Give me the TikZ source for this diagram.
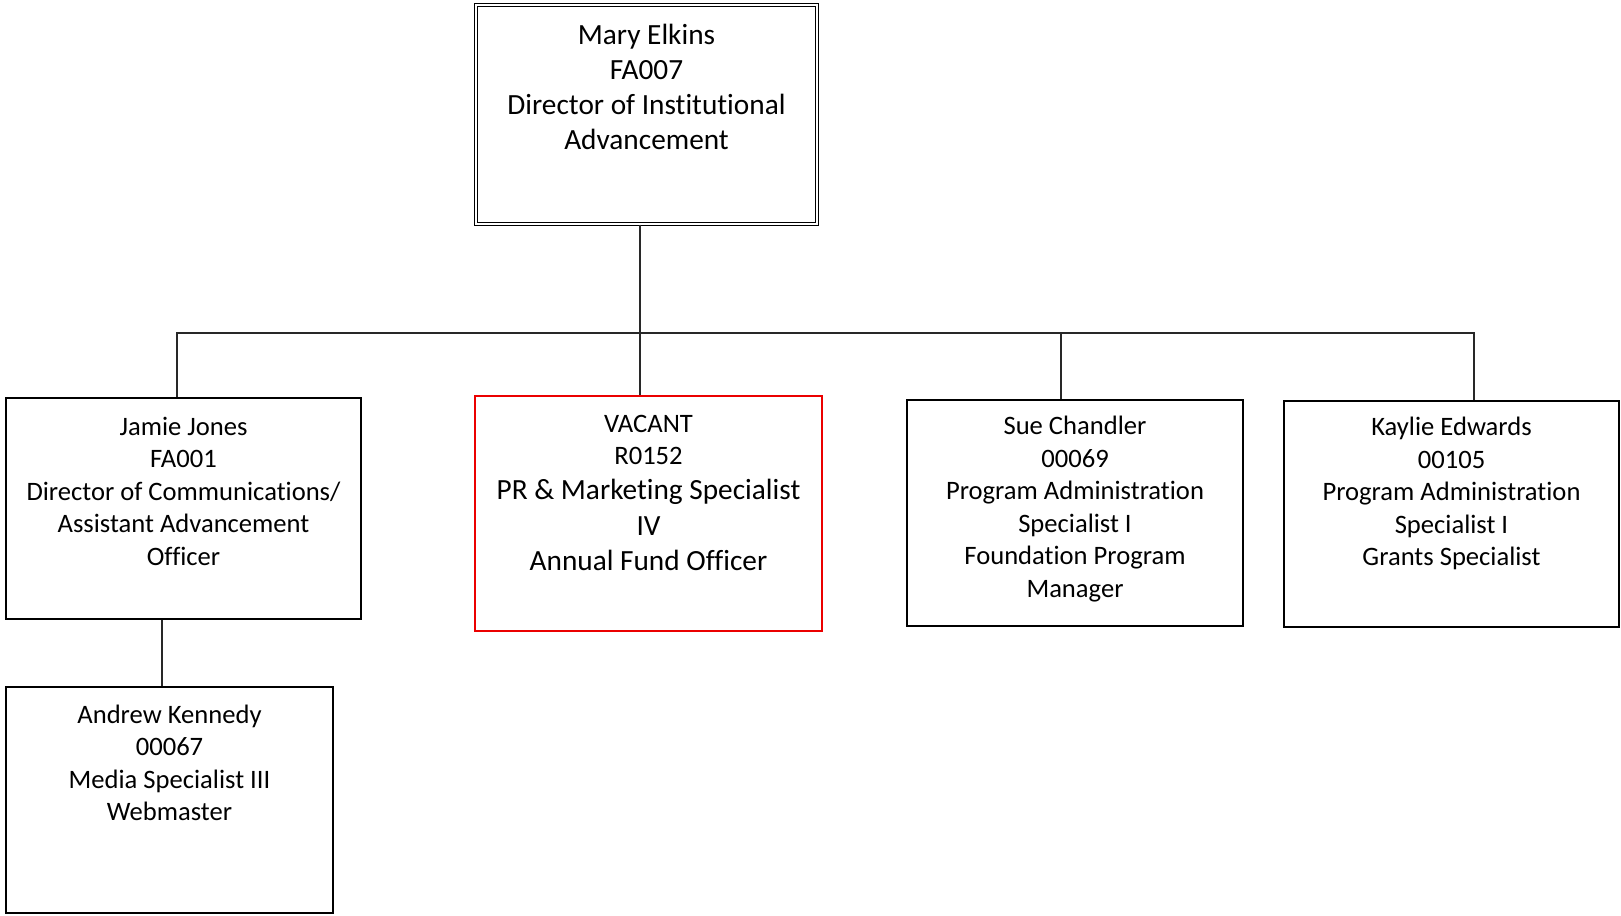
\documentclass[tikz,border=0pt]{standalone}
\usepackage{fontspec}
\setmainfont{Carlito}[RawFeature={-liga;-clig;-calt;-dlig}]
\definecolor{vacred}{RGB}{235,0,0}
\definecolor{connc}{RGB}{40,40,40}
\newcommand{\orgbox}[4]{\vbox to #2{\hsize=#1\parindent=0pt\parskip=0pt\centering\lineskiplimit=-100pt\rule{0pt}{#3}#4\par\vfil}}
\newcommand{\smtxt}{\fontsize{26.6pt}{32.5pt}\selectfont}
\newcommand{\bigtxt}{\fontsize{29.3pt}{35.3pt}\selectfont}
\begin{document}
\begin{tikzpicture}[x=1pt,y=-1pt,
  box/.style={draw=black,line width=2pt,inner sep=0pt,fill=white},
  topbox/.style={draw=black,line width=1.3pt,double=white,double distance=2.2pt,inner sep=0pt},
  redbox/.style={draw=vacred,line width=2.3pt,inner sep=0pt},
  conn/.style={draw=connc,line width=1.1pt}]
\useasboundingbox (0,0) rectangle (1621,915);
\fill[white] (0,0) rectangle (1621,915);

\node[topbox] (mary) at (646.5,114.5) {\orgbox{341pt}{219pt}{39pt}{\bigtxt Mary Elkins\par FA007\par Director of Institutional\par Advancement}};

\node[box] (jamie) at (183.5,508.5) {\orgbox{355pt}{221pt}{37pt}{\smtxt Jamie Jones\par FA001\par Director of Communications/\par Assistant Advancement\par Officer}};

\node[redbox] (vacant) at (648.5,513.5) {\orgbox{347pt}{235pt}{36pt}{\smtxt VACANT\par R0152\par\bigtxt PR \& Marketing Specialist\par IV\par Annual Fund Officer}};

\node[box] (sue) at (1075,512.5) {\orgbox{336pt}{226pt}{35pt}{\smtxt Sue Chandler\par 00069\par Program Administration\par Specialist I\par Foundation Program\par Manager}};

\node[box] (kaylie) at (1451.5,513.5) {\orgbox{335pt}{226pt}{35pt}{\smtxt Kaylie Edwards\par 00105\par Program Administration\par Specialist I\par Grants Specialist}};

\node[box] (andrew) at (169.5,800) {\orgbox{327pt}{226pt}{36pt}{\smtxt Andrew Kennedy\par 00067\par Media Specialist III\par Webmaster}};

\coordinate (bus) at (0,333);
\coordinate (mx) at ([xshift=-6.5pt]mary.south);
\coordinate (vx) at ([xshift=-8.5pt]vacant.north);
\coordinate (jx) at ([xshift=-6.5pt]jamie.north);
\coordinate (sx) at ([xshift=-14pt]sue.north);
\coordinate (kx) at ([xshift=22.5pt]kaylie.north);
\coordinate (ax) at ([xshift=-21.5pt]jamie.south);

\draw[conn] (mx) -- (vx);
\draw[conn] (jx) -- (jx |- bus) -- (kx |- bus) -- (kx);
\draw[conn] (sx) -- (sx |- bus);
\draw[conn] (ax) -- (ax |- andrew.north);
\end{tikzpicture}
\end{document}
